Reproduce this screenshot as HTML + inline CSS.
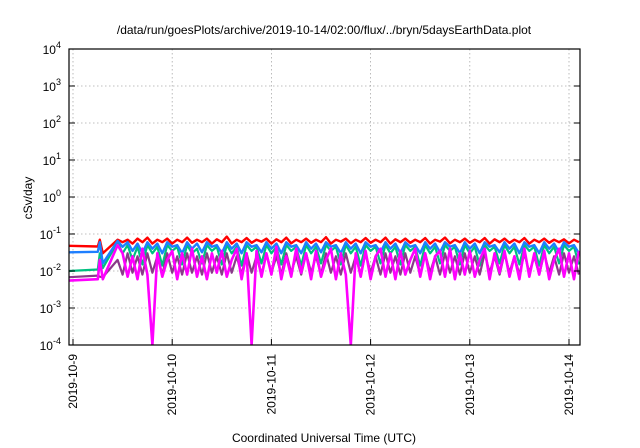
<!DOCTYPE html>
<html><head><meta charset="utf-8"><style>
html,body{margin:0;padding:0;background:#fff;}
svg{display:block;font-family:"Liberation Sans",sans-serif;}
</style></head><body>
<svg id="chart" width="640" height="448" xmlns="http://www.w3.org/2000/svg">
<text x="324" y="34" font-size="12" text-anchor="middle">/data/run/goesPlots/archive/2019-10-14/02:00/flux/../bryn/5daysEarthData.plot</text>
<text transform="translate(32,198) rotate(-90)" font-size="12" text-anchor="middle">cSv/day</text>
<text x="324" y="442" font-size="12" text-anchor="middle">Coordinated Universal Time (UTC)</text>
<g id="grid"></g>
<g id="series"></g>
<g id="axes"></g>
</svg>
<script>
const dayLabels=["2019-10-9","2019-10-10","2019-10-11","2019-10-12","2019-10-13","2019-10-14"];
const yExp=[-4,-3,-2,-1,0,1,2,3,4];
const earlyTimes=[-0.04,0.25,0.27,0.30,0.45];
const gridStart=0.5, gridStep=0.05, gridCount=93;
const red=[0.048,0.046,0.07,0.03,0.07,0.06,0.07,0.055,0.075,0.06,0.08,0.055,0.07,0.06,0.075,0.055,0.07,0.06,0.08,0.058,0.07,0.06,0.075,0.055,0.072,0.06,0.085,0.055,0.07,0.06,0.078,0.058,0.07,0.062,0.075,0.055,0.072,0.06,0.08,0.056,0.07,0.06,0.075,0.058,0.07,0.06,0.082,0.055,0.07,0.062,0.075,0.056,0.07,0.06,0.078,0.058,0.07,0.06,0.08,0.055,0.072,0.06,0.075,0.058,0.07,0.06,0.078,0.055,0.07,0.062,0.08,0.056,0.07,0.06,0.075,0.058,0.07,0.06,0.078,0.055,0.072,0.06,0.075,0.058,0.07,0.06,0.078,0.055,0.07,0.06,0.075,0.058,0.07,0.06,0.072,0.056,0.07,0.06];
const green=[0.01,0.011,0.03,0.012,0.06,0.03,0.05,0.02,0.045,0.015,0.05,0.03,0.045,0.014,0.05,0.035,0.045,0.015,0.05,0.03,0.04,0.016,0.05,0.035,0.045,0.015,0.05,0.03,0.045,0.014,0.05,0.035,0.045,0.016,0.05,0.03,0.045,0.015,0.05,0.035,0.045,0.014,0.05,0.03,0.045,0.016,0.05,0.035,0.045,0.015,0.05,0.03,0.045,0.014,0.05,0.035,0.045,0.016,0.05,0.03,0.045,0.015,0.05,0.035,0.045,0.014,0.05,0.03,0.045,0.016,0.05,0.035,0.045,0.015,0.05,0.03,0.045,0.014,0.05,0.035,0.045,0.016,0.05,0.03,0.045,0.015,0.05,0.035,0.045,0.014,0.05,0.03,0.045,0.016,0.05,0.035,0.045,0.015];
const purple=[0.0068,0.0075,0.007,0.0068,0.02,0.008,0.03,0.009,0.025,0.008,0.03,0.009,0.025,0.008,0.03,0.009,0.025,0.008,0.03,0.009,0.025,0.008,0.03,0.009,0.025,0.008,0.03,0.009,0.025,0.008,0.03,0.009,0.025,0.008,0.03,0.009,0.025,0.008,0.03,0.009,0.025,0.008,0.03,0.009,0.025,0.008,0.03,0.009,0.025,0.008,0.03,0.009,0.025,0.008,0.03,0.009,0.025,0.008,0.03,0.009,0.025,0.008,0.03,0.009,0.025,0.008,0.03,0.009,0.025,0.008,0.03,0.009,0.025,0.008,0.03,0.009,0.025,0.008,0.03,0.009,0.025,0.008,0.03,0.009,0.025,0.008,0.03,0.009,0.025,0.008,0.03,0.009,0.025,0.008,0.03,0.009,0.025,0.008];
const blue=[0.032,0.033,0.06,0.016,0.065,0.045,0.06,0.035,0.055,0.03,0.06,0.04,0.055,0.03,0.06,0.045,0.05,0.03,0.06,0.04,0.055,0.032,0.06,0.045,0.05,0.03,0.06,0.04,0.055,0.03,0.06,0.045,0.05,0.032,0.06,0.04,0.055,0.03,0.06,0.045,0.05,0.03,0.06,0.04,0.055,0.032,0.06,0.045,0.05,0.03,0.06,0.04,0.055,0.03,0.06,0.045,0.05,0.032,0.06,0.04,0.055,0.03,0.06,0.045,0.05,0.03,0.06,0.04,0.055,0.032,0.06,0.045,0.05,0.03,0.06,0.04,0.055,0.03,0.06,0.045,0.05,0.032,0.06,0.04,0.055,0.03,0.06,0.045,0.05,0.03,0.06,0.04,0.055,0.032,0.06,0.045,0.05,0.03];
const magenta=[0.0055,0.006,0.02,0.006,0.05,0.03,0.007,0.025,0.006,0.04,0.008,0.0001,0.03,0.007,0.02,0.035,0.006,0.03,0.008,0.04,0.007,0.025,0.006,0.03,0.009,0.035,0.007,0.02,0.04,0.006,0.03,0.0001,0.035,0.007,0.03,0.008,0.045,0.006,0.025,0.007,0.04,0.009,0.03,0.006,0.035,0.007,0.02,0.04,0.006,0.03,0.008,0.0001,0.03,0.007,0.035,0.006,0.025,0.04,0.007,0.03,0.006,0.035,0.008,0.02,0.04,0.007,0.03,0.006,0.025,0.035,0.007,0.04,0.006,0.03,0.008,0.035,0.007,0.02,0.04,0.006,0.03,0.009,0.035,0.007,0.025,0.006,0.04,0.007,0.03,0.008,0.035,0.006,0.02,0.04,0.007,0.03,0.006,0.035];

const L=69,R=580,T=49,B=345;
const xDay=d=>73+d*99.2;
const yVal=v=>{const e=Math.log10(Math.max(v,1e-4));return B-(e+4)*(B-T)/8;};
const NS="http://www.w3.org/2000/svg";
const mk=(tag,attrs,parent)=>{const el=document.createElementNS(NS,tag);for(const k in attrs)el.setAttribute(k,attrs[k]);parent.appendChild(el);return el;};
const times=earlyTimes.slice();
for(let i=0;i<gridCount;i++)times.push(gridStart+i*gridStep);

const grid=document.getElementById('grid'),axes=document.getElementById('axes'),ser=document.getElementById('series');
yExp.forEach(e=>{
  const y=B-(e+4)*(B-T)/8;
  const gl=mk('line',{x1:L,x2:R,y1:y,y2:y,stroke:'#aaa','stroke-width':0.8,'stroke-dasharray':'1.5,2.5'},grid);
  
  
  const tk=mk('line',{x1:L,x2:L+6,y1:y,y2:y,stroke:'#000'},axes);
  
  
  const tk2=mk('line',{x1:R-6,x2:R,y1:y,y2:y,stroke:'#000'},axes);
  
  
  const t=mk('text',{x:L-8,y:y+5,'font-size':12,'text-anchor':'end'},axes);
  
  
  t.textContent='10';
  const s=mk('tspan',{dy:-6,'font-size':9},t);s.textContent=String(e);
});
dayLabels.forEach((lab,i)=>{
  const x=xDay(i);
  const gl=mk('line',{x1:x,x2:x,y1:T,y2:B,stroke:'#aaa','stroke-width':0.8,'stroke-dasharray':'1.5,2.5'},grid);
  
  
  const tk=mk('line',{x1:x,x2:x,y1:B-6,y2:B,stroke:'#000'},axes);
  
  
  const t=mk('text',{transform:`translate(${x+4},${B+9}) rotate(-90)`,'font-size':12,'text-anchor':'end'},axes);
  
  
  t.textContent=lab;
});
const frame=mk('rect',{x:L,y:T,width:R-L,height:B-T,fill:'none',stroke:'#000','stroke-width':1.2},axes);



const cp=mk('clipPath',{id:'clip'},document.getElementById('chart'));
mk('rect',{x:L,y:T,width:R-L,height:B-T},cp);
const list=[[red,'#ff0000','series-red',2.4],[green,'#00c080','series-green',2.2],[purple,'#8a3a8a','series-purple',2.2],[blue,'#1e7fff','series-blue',2.4],[magenta,'#ff00ff','series-magenta',2.6]];
list.forEach(([vals,col,name,w])=>{
  const n=Math.min(vals.length,times.length);
  let d='';
  for(let i=0;i<n;i++)d+=(i?'L':'M')+xDay(times[i]).toFixed(1)+','+yVal(vals[i]).toFixed(1);
  const p=mk('path',{d,fill:'none',stroke:col,'stroke-width':w,'stroke-linejoin':'round','clip-path':'url(#clip)'},ser);
  
  
});
</script>
</body></html>
